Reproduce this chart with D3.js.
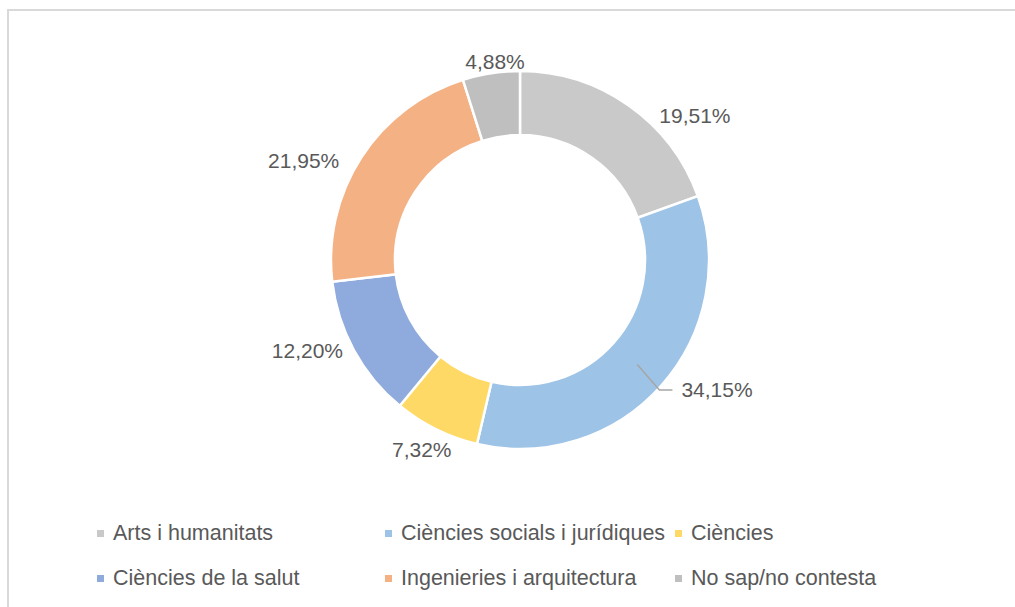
<!DOCTYPE html>
<html>
<head>
<meta charset="utf-8">
<script src="https://cdn.jsdelivr.net/npm/d3@7"></script>
<style>
  html, body { margin: 0; padding: 0; background: #fff; }
  svg { display: block; }
  text { font-family: "Liberation Sans", Arial, sans-serif; fill: #595959; }
</style>
</head>
<body>
<svg id="chart" width="1015" height="607"></svg>
<script>
// ---- data ----
const categories = [
  "Arts i humanitats",
  "Ciències socials i jurídiques",
  "Ciències",
  "Ciències de la salut",
  "Ingenieries i arquitectura",
  "No sap/no contesta"
];
const values = [19.51, 34.15, 7.32, 12.20, 21.95, 4.88];
const valueLabels = ["19,51%", "34,15%", "7,32%", "12,20%", "21,95%", "4,88%"];

// ---- styles / layout (not data) ----
const colors = ["#C9C9C9", "#9DC3E6", "#FFD966", "#8FAADC", "#F4B183", "#BFBFBF"];
const labelAngleShift = [15.3, -8.3, 1.0, 5.5, -8.3, 1.6]; // degrees from slice mid-angle
const labelRadius = [227, 236, 214, 231, 238, 200];
const leader = [false, true, false, false, false, false];

const W = 1015, H = 607;
const cx = 520, cy = 260;
const rOuter = 189, rInner = 125;

const svg = d3.select("#chart");

// chart area border
svg.append("rect")
  .attr("x", 8).attr("y", 10)
  .attr("width", W + 50).attr("height", H + 50)
  .attr("fill", "none")
  .attr("stroke", "#D9D9D9")
  .attr("stroke-width", 2);

const g = svg.append("g").attr("transform", `translate(${cx},${cy})`);

const pie = d3.pie().sort(null).value(d => d);
const arcs = pie(values);
const arc = d3.arc().innerRadius(rInner).outerRadius(rOuter);
const midArc = d3.arc().innerRadius((rInner + rOuter) / 2).outerRadius((rInner + rOuter) / 2);

g.selectAll("path.slice")
  .data(arcs)
  .enter().append("path")
  .attr("class", "slice")
  .attr("d", arc)
  .attr("fill", (d, i) => colors[i])
  .attr("stroke", "#fff")
  .attr("stroke-width", 2.5)
  .attr("stroke-linejoin", "miter");

// data labels
arcs.forEach((d, i) => {
  const mid = (d.startAngle + d.endAngle) / 2 + labelAngleShift[i] * Math.PI / 180;
  const r = labelRadius[i];
  const lx = r * Math.sin(mid);
  const ly = -r * Math.cos(mid);
  const t = g.append("text")
    .attr("x", lx).attr("y", ly)
    .attr("dy", "0.35em")
    .attr("text-anchor", "middle")
    .attr("font-size", 21)
    .text(valueLabels[i]);
  if (leader[i]) {
    const bb = t.node().getBBox();
    const left = bb.x;
    const c = midArc.centroid(d);
    g.append("polyline")
      .attr("points", [[c[0], c[1]], [left - 22, ly], [left - 9, ly]].map(p => p.join(",")).join(" "))
      .attr("fill", "none")
      .attr("stroke", "#A6A6A6")
      .attr("stroke-width", 1.5);
  }
});

// legend
const legendCols = [97, 385, 675];
const legendRows = [540, 585];
const legend = svg.append("g");
categories.forEach((c, i) => {
  const col = i % 3, row = Math.floor(i / 3);
  const x = legendCols[col], y = legendRows[row];
  legend.append("rect")
    .attr("x", x).attr("y", y - 10)
    .attr("width", 7).attr("height", 7)
    .attr("fill", colors[i]);
  legend.append("text")
    .attr("x", x + 16).attr("y", y)
    .attr("font-size", 21.5)
    .text(c);
});
</script>
</body>
</html>
